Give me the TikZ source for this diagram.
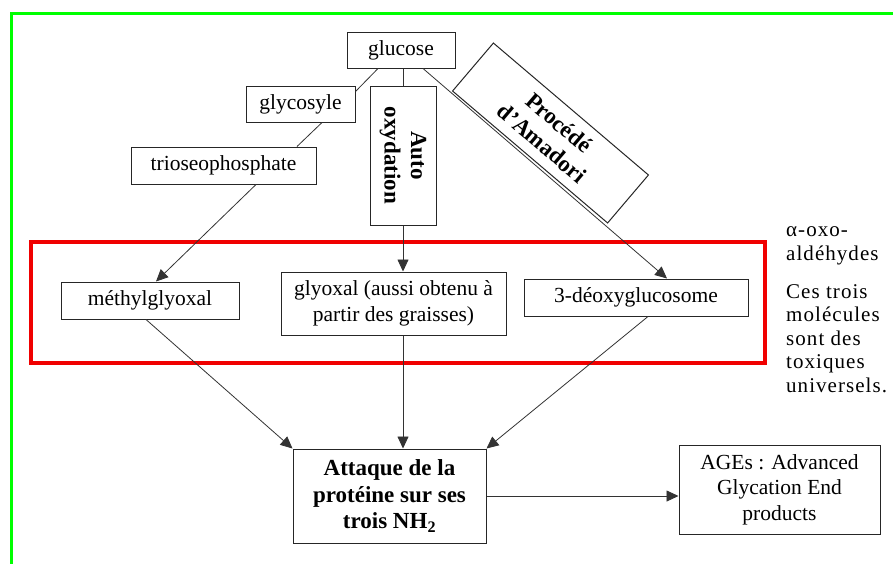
\documentclass[tikz,border=0pt]{standalone}
\usepackage{fontspec}
\setmainfont{Liberation Serif}
\usetikzlibrary{arrows.meta,calc}
\begin{document}
\begin{tikzpicture}[x=1pt,y=-1pt,
  box/.style={draw=black!85, line width=1pt, inner sep=0pt, align=center, font=\fontsize{21.5}{25.5}\selectfont},
  bbox/.style={box, font=\fontsize{23}{26.5}\selectfont\bfseries},
  lbl/.style={inner sep=0pt, align=center, font=\fontsize{23}{26.5}\selectfont\bfseries},
  conn/.style={draw=black!80, line width=0.8pt},
  arr/.style={conn, -{Triangle[length=12pt,width=11pt]}},
  side/.style={anchor=base west, align=left, inner sep=0pt, font=\fontsize{21}{23.5}\selectfont\addfontfeature{LetterSpace=5}}
]
\useasboundingbox (0,0) rectangle (893,563);
\fill[white] (0,0) rectangle (893,563);
% green frame
\draw[line width=3pt, color={rgb,255:red,0;green,255;blue,0}] (11,565) -- (11,13) -- (895,13);

% red frame
\draw[line width=4pt, color={rgb,255:red,240;green,0;blue,0}] (31,242) rectangle (765,363);

% nodes
\node[box, minimum width=108pt, minimum height=36pt] (glucose) at (401,50) {glucose};
\node[box, minimum width=109pt, minimum height=36pt] (glycosyle) at (300.5,104) {glycosyle};
\node[box, minimum width=185pt, minimum height=37pt] (triose) at (223.5,165.5) {trioseophosphate};
\node[box, minimum width=66pt, minimum height=139pt] (auto) at (403,155.5) {};
\node[lbl, rotate=-90] (autolbl) at (auto.center) {Auto\\oxydation};

\node[box, minimum width=178pt, minimum height=37pt] (methyl) at (150,300.5) {méthylglyoxal};
\node[box, minimum width=225pt, minimum height=63pt] (glyoxal) at (393.5,303.5) {glyoxal (aussi obtenu à\\partir des graisses)};
\node[box, minimum width=224pt, minimum height=37pt] (deoxy) at (636,297.5) {3-déoxyglucosome};

\node[bbox, minimum width=193pt, minimum height=94pt] (attaque) at (389.5,496) {Attaque de la\\protéine sur ses\\trois NH\textsubscript{2}};
\node[box, minimum width=201pt, minimum height=89pt] (ages) at (779.5,489.5) {AGEs : Advanced\\Glycation End\\products};

% connectors
\draw[conn] ($(glucose.south)+(-23,0)$) -- ($(glycosyle.north east)+(0,6)$);
\draw[conn] ($(glycosyle.south)+(21.5,0)$) -- ($(triose.north)+(73.5,0)$);
\draw[arr] ($(triose.south)+(32.5,0)$) -- ($(methyl.north)+(6,0)$);
\draw[conn] (glucose.south -| auto.north) -- (auto.north);
\draw[arr] (auto.south) -- (auto.south |- glyoxal.north);
\draw[arr] ($(glucose.south)+(22,0)$) -- ($(deoxy.north)+(31,0)$);

\node[bbox, fill=white, rotate=-40.4, minimum width=203.6pt, minimum height=63pt] (amadori) at (550.5,133) {Procédé\\d'Amadori};

\draw[arr] ($(methyl.south)+(-4,0)$) -- (attaque.north west);
\draw[arr] (glyoxal.south -| auto.south) -- (attaque.north -| auto.south);
\draw[arr] ($(deoxy.south)+(12,0)$) -- (attaque.north east);
\draw[arr] (attaque.east) -- (attaque.east -| ages.west);

% side text
\node[side] (alpha) at (786,260) {α-oxo-\\aldéhydes};
\node[side] (toxic) at (786,392) {Ces trois\\molécules\\sont des\\toxiques\\universels.};
\end{tikzpicture}
\end{document}
